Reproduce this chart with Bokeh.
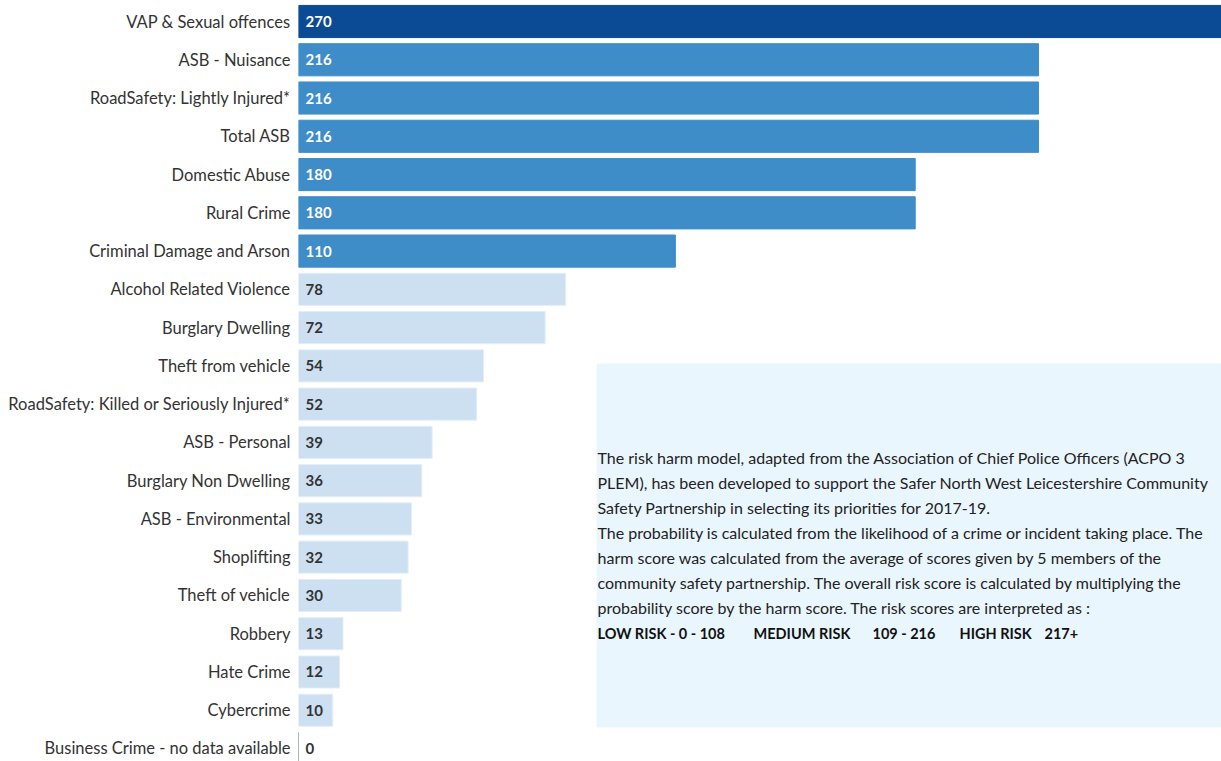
from bokeh.plotting import figure
from bokeh.models import ColumnDataSource, Range1d, FixedTicker, BoxAnnotation
from bokeh.core.properties import value
from bokeh.embed import file_html
from bokeh.resources import INLINE

categories = [
    "VAP & Sexual offences", "ASB - Nuisance", "RoadSafety: Lightly Injured*",
    "Total ASB", "Domestic Abuse", "Rural Crime", "Criminal Damage and Arson",
    "Alcohol Related Violence", "Burglary Dwelling", "Theft from vehicle",
    "RoadSafety: Killed or Seriously Injured*", "ASB - Personal",
    "Burglary Non Dwelling", "ASB - Environmental", "Shoplifting",
    "Theft of vehicle", "Robbery", "Hate Crime", "Cybercrime",
    "Business Crime - no data available",
]
scores = [270, 216, 216, 216, 180, 180, 110, 78, 72, 54, 52, 39, 36, 33, 32, 30, 13, 12, 10, 0]

note_lines = [
    "The risk harm model, adapted from the Association of Chief Police Officers (ACPO 3",
    "PLEM), has been developed to support the Safer North West Leicestershire Community",
    "Safety Partnership in selecting its priorities for 2017-19.",
    "The probability is calculated from the likelihood of a crime or incident taking place. The",
    "harm score was calculated from the average of scores given by 5 members of the",
    "community safety partnership. The overall risk score is calculated by multiplying the",
    "probability score by the harm score. The risk scores are interpreted as :",
]
band_texts = ["LOW RISK - 0 - 108", "MEDIUM RISK", "109 - 216", "HIGH RISK", "217+"]

HIGH, MED, LOW = "#0B4A95", "#3E8DC8", "#CDE0F2"

def band_color(v):
    if v >= 217:
        return HIGH
    if v >= 109:
        return MED
    return LOW

fills = [band_color(v) for v in scores]
lines = ["#999999" if v == 0 else ("#E4EEF8" if band_color(v) == LOW else c) for v, c in zip(scores, fills)]
txtcol = ["white" if band_color(v) != LOW else "#333333" for v in scores]
ys = list(range(len(categories)))

src = ColumnDataSource(dict(y=ys, v=scores, fill=fills, line=lines, tc=txtcol,
                            lab=[str(v) for v in scores], x0=[0] * len(scores)))

W, H = 1221, 761
p = figure(width=W, height=H, output_backend="svg", toolbar_location=None,
           x_range=Range1d(0, 269.4), y_range=Range1d(19.34, -0.549),
           min_border_left=298, min_border_right=0, min_border_top=0, min_border_bottom=0)
p.outline_line_color = None
p.xgrid.visible = False
p.ygrid.visible = False
p.xaxis.visible = False
p.background_fill_color = "white"
p.border_fill_color = "white"

p.hbar(y="y", left=0, right="v", height=0.84, fill_color="fill", line_color="line",
       line_width=1, source=src)
p.text(x="x0", y="y", text="lab", text_color="tc", x_offset=7,
       text_font=value("Lato"), text_font_size="15px", text_font_style="bold",
       text_baseline="middle", text_align="left", source=src)

ax = p.yaxis[0]
ax.ticker = FixedTicker(ticks=ys)
ax.major_label_overrides = {i: c for i, c in enumerate(categories)}
ax.axis_line_color = None
ax.major_tick_line_color = None
ax.minor_tick_line_color = None
ax.major_tick_out = 0
ax.major_label_standoff = 8
ax.major_label_text_font = "Lato"
ax.major_label_text_font_size = "16.5px"
ax.major_label_text_color = "#333333"

# note box (positions in data units derived from pixel layout)
px_per_unit = 3.426
row_px = 38.26
def xd(page_x):
    return (page_x - 298) / px_per_unit
def yd(page_y):
    return (page_y - 21) / row_px

p.add_layout(BoxAnnotation(left=xd(596), right=300, top=yd(363), bottom=yd(727),
                           fill_color="#EAF6FE", fill_alpha=1.0, line_color=None, level="underlay"))

note_y = [yd(457 + 25 * i) for i in range(len(note_lines))]
note_src = ColumnDataSource(dict(x=[xd(597)] * len(note_lines), y=note_y, t=note_lines))
p.text(x="x", y="y", text="t", source=note_src, text_font=value("Lato"),
       text_font_size="16px", text_color="#222222", text_baseline="middle", text_align="left")

band_x = [597, 753, 872, 959, 1044]
band_src = ColumnDataSource(dict(x=[xd(b) for b in band_x], y=[yd(633)] * len(band_x), t=band_texts))
p.text(x="x", y="y", text="t", source=band_src, text_font=value("Lato"),
       text_font_size="14.5px", text_font_style="bold", text_color="#111111",
       text_baseline="middle", text_align="left")

open("out.html", "w").write(file_html(p, INLINE))
